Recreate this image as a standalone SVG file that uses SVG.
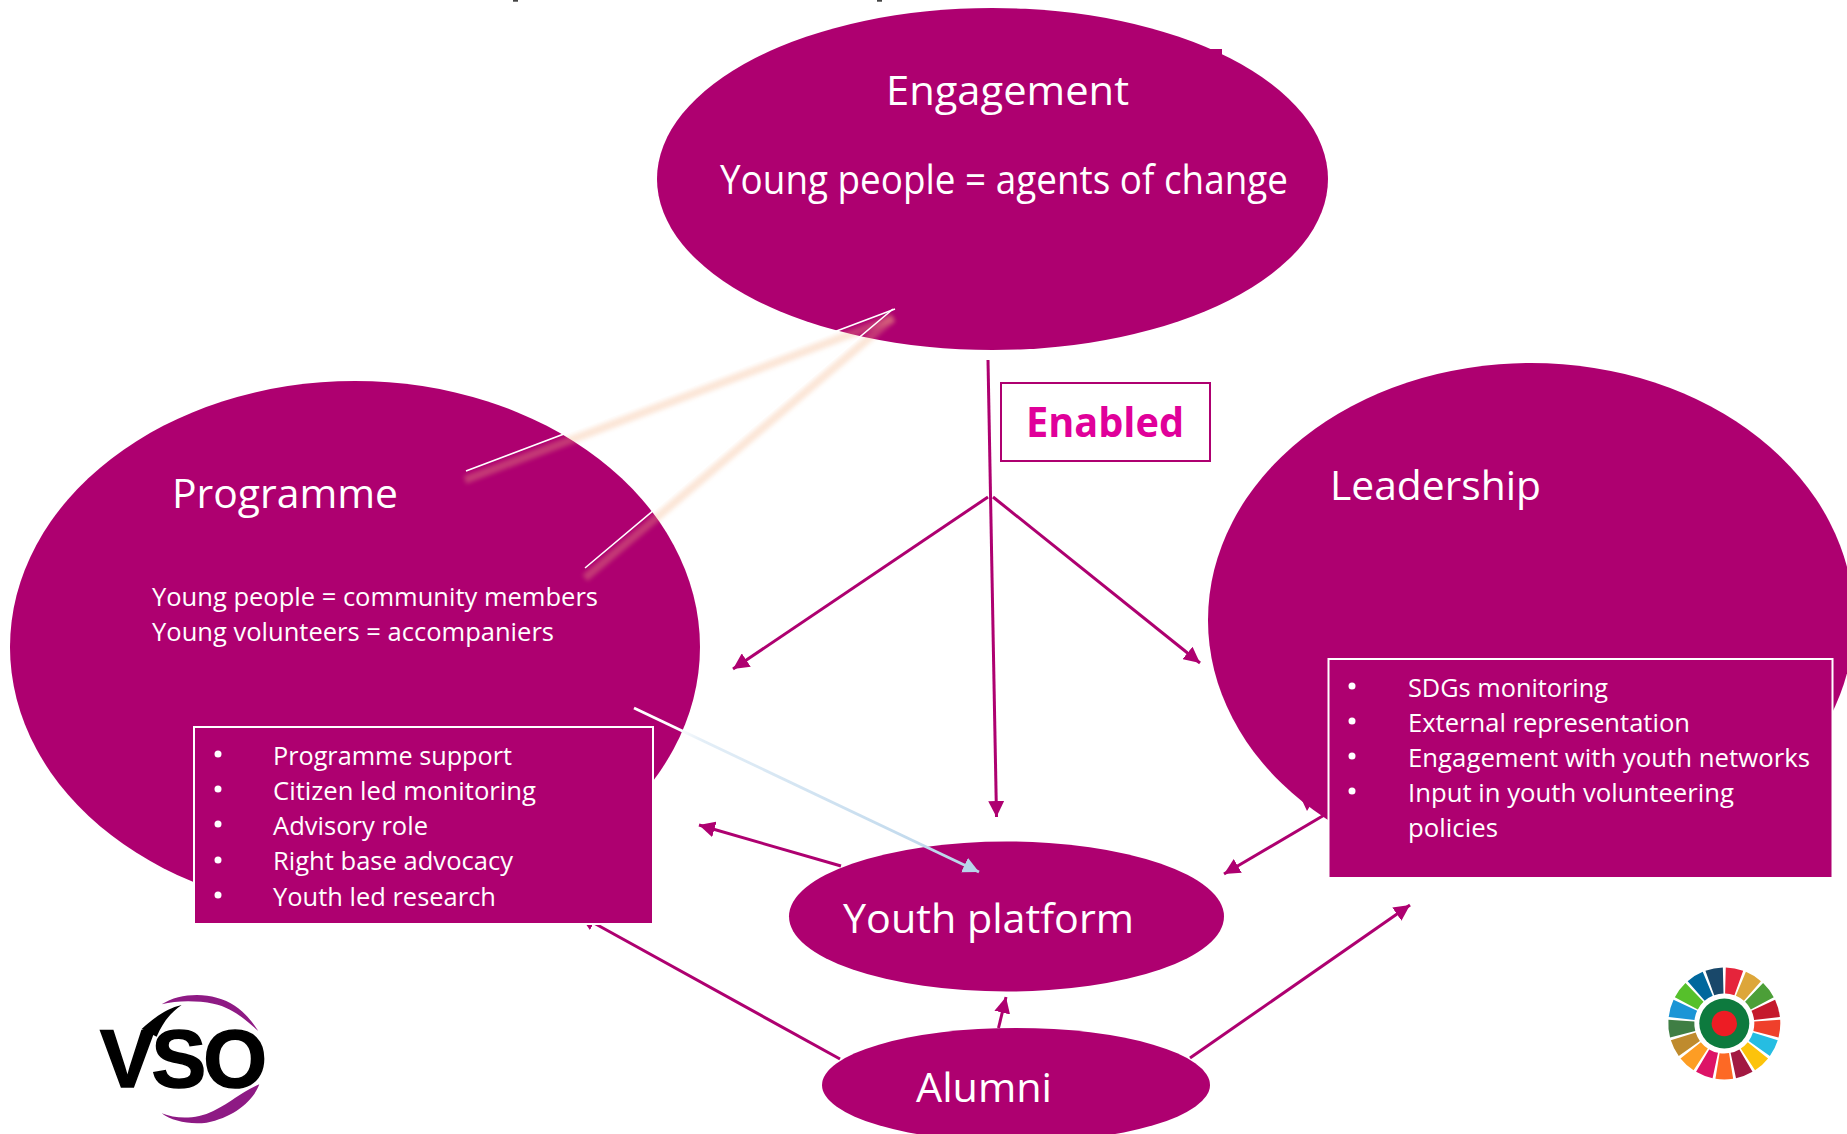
<svg xmlns="http://www.w3.org/2000/svg" width="1847" height="1134" viewBox="0 0 1847 1134">
<style>
text{font-family:"Open Sans","Noto Sans","Liberation Sans",sans-serif;fill:#fff}
.blob{fill:#ae0070}
.box{fill:#ae0070;stroke:#fff;stroke-width:2}
.t{font-size:41px}
.l{font-size:26px}
.b{stroke:none;fill:#fff}
.c{stroke:#ae0070;stroke-width:3;fill:none;marker-end:url(#ah)}
.w{stroke:#fff;stroke-width:1.6;fill:none}
.s{stroke:#f4b183;stroke-width:8;opacity:.32;fill:none;filter:url(#bl)}
.frag{fill:#444}
</style>
<defs>
<marker id="ah" markerUnits="userSpaceOnUse" markerWidth="17" markerHeight="16" refX="16" refY="8" orient="auto"><path d="M0 0L16 8L0 16z" fill="#ae0070"/></marker>
<marker id="ab" markerUnits="userSpaceOnUse" markerWidth="17" markerHeight="16" refX="16" refY="8" orient="auto"><path d="M0 0L16 8L0 16z" fill="#b8d4ea"/></marker>
<linearGradient id="gb" gradientUnits="userSpaceOnUse" x1="634" y1="708" x2="980" y2="872"><stop offset="0" stop-color="#fff"/><stop offset=".12" stop-color="#fff"/><stop offset=".2" stop-color="#e3eef7"/><stop offset="1" stop-color="#b8d4ea"/></linearGradient>
<filter id="bl" x="-10%" y="-10%" width="120%" height="120%"><feGaussianBlur stdDeviation="2.200"/></filter>
<path id="wedge" d="M.79 -29.99L1.47 -55.98A56 56 0 0 1 18.86 -52.73L10.1 -28.25A30 30 0 0 0 .79 -29.99z"/>
</defs>
<rect width="1847" height="1134" fill="#fff"/>
<rect class="frag" x="513" y="0" width="5" height="1.700"/>
<rect class="frag" x="877" y="0" width="5" height="1.700"/>
<g id="connectors-behind">
<path class="c" d="M840 1059L579.800 915.300"/>
</g>
<g id="node-engagement">
<ellipse class="blob" cx="992.500" cy="179" rx="335.500" ry="171"/>
<rect class="blob" x="1210" y="49" width="12" height="7"/>
<text class="t" x="886" y="105" textLength="243" lengthAdjust="spacingAndGlyphs">Engagement</text>
<text class="t" x="720" y="194" textLength="568" lengthAdjust="spacingAndGlyphs">Young people = agents of change</text>
</g>
<g id="node-programme">
<ellipse class="blob" cx="355" cy="647" rx="345" ry="266"/>
<text class="t" x="172" y="508" textLength="226" lengthAdjust="spacingAndGlyphs">Programme</text>
<text class="l" x="152" y="606" textLength="446" lengthAdjust="spacingAndGlyphs">Young people = community members</text>
<text class="l" x="152" y="641" textLength="402" lengthAdjust="spacingAndGlyphs">Young volunteers = accompaniers</text>
<rect class="box" x="194" y="727" width="459" height="197"/>
<g class="bullets">
<circle class="b" cx="218" cy="754" r="3.500"/><circle class="b" cx="218" cy="789" r="3.500"/><circle class="b" cx="218" cy="824" r="3.500"/><circle class="b" cx="218" cy="860" r="3.500"/><circle class="b" cx="218" cy="895" r="3.500"/>
</g>
<text class="l" x="273" y="764.500" textLength="239" lengthAdjust="spacingAndGlyphs">Programme support</text>
<text class="l" x="273" y="800" textLength="263" lengthAdjust="spacingAndGlyphs">Citizen led monitoring</text>
<text class="l" x="273" y="835" textLength="155" lengthAdjust="spacingAndGlyphs">Advisory role</text>
<text class="l" x="273" y="870" textLength="240" lengthAdjust="spacingAndGlyphs">Right base advocacy</text>
<text class="l" x="273" y="905.500" textLength="223" lengthAdjust="spacingAndGlyphs">Youth led research</text>
</g>
<g id="node-leadership">
<ellipse class="blob" cx="1531" cy="620" rx="323" ry="257"/>
<path class="blob" d="M1300 796L1307 811L1310 806L1327 813L1325 790z"/>
<text class="t" x="1330" y="500" textLength="211" lengthAdjust="spacingAndGlyphs">Leadership</text>
<rect class="box" x="1328.500" y="659" width="504" height="219"/>
<g class="bullets">
<circle class="b" cx="1352" cy="686" r="3.500"/><circle class="b" cx="1352" cy="721" r="3.500"/><circle class="b" cx="1352" cy="756" r="3.500"/><circle class="b" cx="1352" cy="791" r="3.500"/>
</g>
<text class="l" x="1408" y="697" textLength="200" lengthAdjust="spacingAndGlyphs">SDGs monitoring</text>
<text class="l" x="1408" y="732" textLength="282" lengthAdjust="spacingAndGlyphs">External representation</text>
<text class="l" x="1408" y="767" textLength="402" lengthAdjust="spacingAndGlyphs">Engagement with youth networks</text>
<text class="l" x="1408" y="802" textLength="326" lengthAdjust="spacingAndGlyphs">Input in youth volunteering</text>
<text class="l" x="1408" y="837" textLength="90" lengthAdjust="spacingAndGlyphs">policies</text>
</g>
<g id="node-youth-platform">
<ellipse class="blob" cx="1006.500" cy="916.500" rx="217.500" ry="75"/>
<text class="t" x="843" y="933" textLength="291" lengthAdjust="spacingAndGlyphs">Youth platform</text>
</g>
<g id="node-alumni">
<ellipse class="blob" cx="1016" cy="1085" rx="194" ry="57"/>
<text class="t" x="916" y="1102" textLength="136" lengthAdjust="spacingAndGlyphs">Alumni</text>
</g>
<g id="node-enabled">
<rect x="1001" y="383" width="209" height="78" fill="#fff" stroke="#ae0070" stroke-width="2"/>
<text x="1026" y="437" font-size="41" font-weight="700" style="fill:#e0009a" textLength="158" lengthAdjust="spacingAndGlyphs">Enabled</text>
</g>
<g id="connectors">
<path class="s" d="M465 480L893 318"/>
<path class="s" d="M585 578L893 318"/>
<path class="w" d="M466 471L895 309"/>
<path class="w" d="M585 568L893 309"/>
<path class="c" d="M988 360L996.500 817"/>
<path class="c" d="M988 497L733 669"/>
<path class="c" d="M993 497L1200 663"/>
<path class="c" d="M841 866L699 825"/>
<path class="c" d="M1326 814L1224 874"/>
<path class="c" d="M998.500 1028L1006 997"/>
<path class="c" d="M1190 1058L1410 905"/>
<path d="M634 708L979 872" stroke="url(#gb)" stroke-width="2.800" fill="none" marker-end="url(#ab)"/>
</g>
<g id="logo-vso">
<text x="100" y="1087" font-size="82" font-weight="700" stroke="#000" stroke-width="1.500" style="font-family:'Liberation Sans',sans-serif;fill:#000" textLength="167">VSO</text>
<g transform="translate(0 951) scale(.3333)">
<path d="M425 234C460 202 500 172 545 162C510 187 490 212 470 257z" fill="#000"/>
<path d="M485 160C530 130 600 125 650 140C710 155 750 200 775 240C740 210 700 170 640 158C590 148 530 148 485 160z" fill="#8e1a84"/>
<path d="M778 400C760 450 700 500 620 515C570 522 515 510 485 487C530 505 590 505 640 480C700 450 720 425 778 400z" fill="#8e1a84"/>
</g>
</g>
<g id="logo-sdg" transform="translate(1724.300 1023.500)">
<use href="#wedge" fill="#e5243b"/>
<use href="#wedge" fill="#dda63a" transform="rotate(21.18)"/>
<use href="#wedge" fill="#4c9f38" transform="rotate(42.35)"/>
<use href="#wedge" fill="#c5192d" transform="rotate(63.53)"/>
<use href="#wedge" fill="#ef402b" transform="rotate(84.71)"/>
<use href="#wedge" fill="#26bde2" transform="rotate(105.88)"/>
<use href="#wedge" fill="#fcc30b" transform="rotate(127.06)"/>
<use href="#wedge" fill="#a21942" transform="rotate(148.24)"/>
<use href="#wedge" fill="#fd6925" transform="rotate(169.41)"/>
<use href="#wedge" fill="#dd1367" transform="rotate(190.59)"/>
<use href="#wedge" fill="#fd9d24" transform="rotate(211.76)"/>
<use href="#wedge" fill="#bf8b2e" transform="rotate(232.94)"/>
<use href="#wedge" fill="#3f7e44" transform="rotate(254.12)"/>
<use href="#wedge" fill="#1b95d6" transform="rotate(275.29)"/>
<use href="#wedge" fill="#56c02b" transform="rotate(296.47)"/>
<use href="#wedge" fill="#00689d" transform="rotate(317.65)"/>
<use href="#wedge" fill="#19486a" transform="rotate(338.82)"/>
<circle r="25" fill="#0d7a3e"/>
<circle r="12.700" fill="#ed1c24"/>
</g>
</svg>
